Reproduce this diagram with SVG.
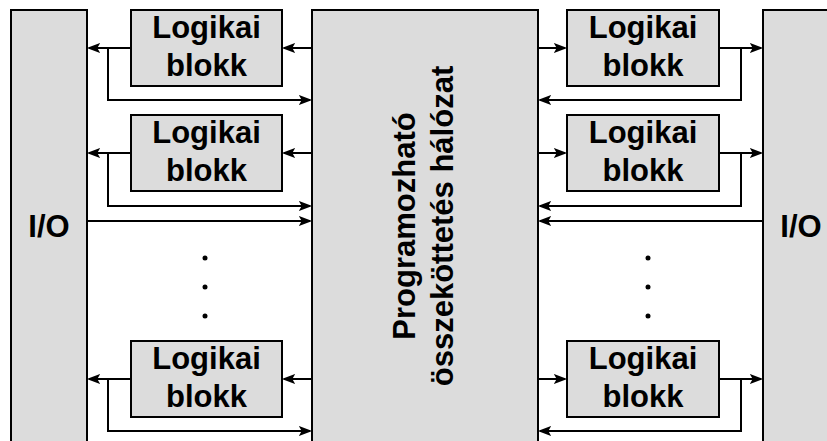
<svg xmlns="http://www.w3.org/2000/svg" width="827" height="441" viewBox="0 0 827 441">
<style>
.box{fill:#dcdcdc;stroke:#000;stroke-width:2}
.t{font-family:"Liberation Sans",Arial,sans-serif;font-weight:bold;font-size:31px;fill:#000;text-anchor:middle}
.c{fill:none;stroke:#000;stroke-width:2;marker-end:url(#ah)}
</style>
<defs>
<marker id="ah" markerUnits="userSpaceOnUse" markerWidth="14" markerHeight="10" viewBox="0 0 12 9" refX="10" refY="4.5" orient="auto">
<path d="M0,0 L12,4.5 L0,9 L2.5,4.5 z" fill="#000"/>
</marker>
</defs>
<rect width="827" height="441" fill="#fff"/>
<g id="io-left"><rect class="box" x="11" y="10" width="76" height="440"/><text class="t" x="49" y="237">I/O</text></g>
<g id="io-right"><rect class="box" x="763" y="10" width="76" height="440"/><text class="t" x="801" y="237">I/O</text></g>
<g id="network"><rect class="box" x="312" y="10" width="226" height="440"/>
<g transform="translate(425,226) rotate(-90)"><text class="t" x="0" y="-10">Programozható</text><text class="t" x="0" y="28">összeköttetés hálózat</text></g></g>
<g id="lb-l1"><rect class="box" x="131" y="10" width="151" height="76"/><text class="t" x="206.5" y="38">Logikai</text><text class="t" x="206.5" y="76">blokk</text></g>
<g id="lb-l2"><rect class="box" x="131" y="115" width="151" height="76"/><text class="t" x="206.5" y="143">Logikai</text><text class="t" x="206.5" y="181">blokk</text></g>
<g id="lb-l3"><rect class="box" x="131" y="341" width="151" height="76"/><text class="t" x="206.5" y="369">Logikai</text><text class="t" x="206.5" y="407">blokk</text></g>
<g id="lb-r1"><rect class="box" x="567" y="10" width="152" height="76"/><text class="t" x="643" y="38">Logikai</text><text class="t" x="643" y="76">blokk</text></g>
<g id="lb-r2"><rect class="box" x="567" y="115" width="152" height="76"/><text class="t" x="643" y="143">Logikai</text><text class="t" x="643" y="181">blokk</text></g>
<g id="lb-r3"><rect class="box" x="567" y="341" width="152" height="76"/><text class="t" x="643" y="369">Logikai</text><text class="t" x="643" y="407">blokk</text></g>
<g id="dots" fill="#000">
<circle cx="205" cy="258" r="2.5"/><circle cx="205" cy="287" r="2.5"/><circle cx="205" cy="316" r="2.5"/>
<circle cx="648" cy="258" r="2.5"/><circle cx="648" cy="287" r="2.5"/><circle cx="648" cy="316" r="2.5"/>
</g>
<g id="connectors">
<path class="c" d="M131,48 H89"/>
<path class="c" d="M108,48 V100 H310"/>
<path class="c" d="M312,48 H284"/>
<path class="c" d="M131,153 H89"/>
<path class="c" d="M108,153 V206 H310"/>
<path class="c" d="M312,153 H284"/>
<path class="c" d="M87,221 H310"/>
<path class="c" d="M131,379 H89"/>
<path class="c" d="M108,379 V431 H310"/>
<path class="c" d="M312,379 H284"/>
<path class="c" d="M538,48 H565"/>
<path class="c" d="M719,48 H761"/>
<path class="c" d="M741,48 V100 H540"/>
<path class="c" d="M538,153 H565"/>
<path class="c" d="M719,153 H761"/>
<path class="c" d="M741,153 V206 H540"/>
<path class="c" d="M763,221 H540"/>
<path class="c" d="M538,379 H565"/>
<path class="c" d="M719,379 H761"/>
<path class="c" d="M741,379 V431 H540"/>
</g>
</svg>
